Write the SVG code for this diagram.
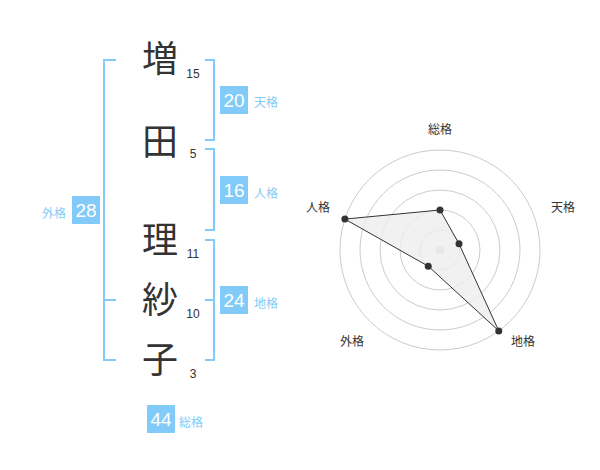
<svg xmlns="http://www.w3.org/2000/svg" width="600" height="470" viewBox="0 0 600 470">
<style>
.kanji{font-family:"Noto Sans CJK JP","Noto Sans CJK SC",sans-serif;font-size:36px;fill:#333;text-anchor:middle}
.num{font-family:"Liberation Sans",Arial,sans-serif;font-size:12px;fill:#333;text-anchor:middle}
.br{fill:none;stroke:#82cbf8;stroke-width:2}
.box{fill:#82cbf8}
.bv{font-family:"Liberation Sans",Arial,sans-serif;font-size:19px;fill:#fff;text-anchor:middle}
.bl{font-family:"Noto Sans CJK JP",sans-serif;font-size:12px;fill:#82cbf8}
.ring{fill:none;stroke:#ccc;stroke-width:1}
.rl{font-family:"Noto Sans CJK JP",sans-serif;font-size:12px;fill:#333;text-anchor:middle}
.dot{fill:#333}
</style>
<rect width="600" height="470" fill="#fff"/>
<g id="connectors">
<path class="br" d="M205,60 H214 V140 H205"/>
<path class="br" d="M205,149 H214 V230 H205"/>
<path class="br" d="M205,240 H214 V360 H205 M205,300 H214"/>
<path class="br" d="M116,60 H104 V360 H116 M104,300 H116"/>
</g>
<g id="char1"><text class="kanji" x="160" y="72">増</text><text class="num" x="193" y="78">15</text></g>
<g id="char2"><text class="kanji" x="160" y="155">田</text><text class="num" x="193" y="158">5</text></g>
<g id="char3"><text class="kanji" x="160" y="253">理</text><text class="num" x="193" y="258">11</text></g>
<g id="char4"><text class="kanji" x="160" y="313">紗</text><text class="num" x="193" y="318">10</text></g>
<g id="char5"><text class="kanji" x="160" y="373">子</text><text class="num" x="193" y="378">3</text></g>
<g id="tenkaku"><rect class="box" x="220" y="86" width="28" height="28"/><text class="bv" x="234" y="107">20</text><text class="bl" x="254" y="107">天格</text></g>
<g id="jinkaku"><rect class="box" x="220" y="176" width="28" height="28"/><text class="bv" x="234" y="197">16</text><text class="bl" x="254" y="198">人格</text></g>
<g id="chikaku"><rect class="box" x="220" y="286" width="28" height="28"/><text class="bv" x="234" y="307">24</text><text class="bl" x="254" y="308">地格</text></g>
<g id="gaikaku"><rect class="box" x="72" y="196" width="28" height="28"/><text class="bv" x="86" y="217">28</text><text class="bl" x="66" y="218" text-anchor="end">外格</text></g>
<g id="soukaku"><rect class="box" x="147" y="405" width="28" height="28"/><text class="bv" x="161" y="426">44</text><text class="bl" x="179" y="427">総格</text></g>
<g id="radar">
<circle class="ring" cx="440" cy="250" r="20"/>
<circle class="ring" cx="440" cy="250" r="40"/>
<circle class="ring" cx="440" cy="250" r="60"/>
<circle class="ring" cx="440" cy="250" r="80"/>
<circle class="ring" cx="440" cy="250" r="100"/>
<circle cx="440" cy="250" r="4" fill="#ccc"/>
<polygon points="440,210 459.02,243.82 498.78,330.9 428.24,266.18 344.89,219.1" fill="#eee" fill-opacity="0.8" stroke="#333" stroke-width="1"/>
<circle class="dot" cx="440" cy="210" r="3.5"/>
<circle class="dot" cx="459.02" cy="243.82" r="3.5"/>
<circle class="dot" cx="498.78" cy="330.9" r="3.5"/>
<circle class="dot" cx="428.24" cy="266.18" r="3.5"/>
<circle class="dot" cx="344.89" cy="219.1" r="3.5"/>
<text class="rl" x="440" y="134">総格</text>
<text class="rl" x="563" y="212">天格</text>
<text class="rl" x="523" y="346">地格</text>
<text class="rl" x="352" y="346">外格</text>
<text class="rl" x="318" y="212">人格</text>
</g>
</svg>
